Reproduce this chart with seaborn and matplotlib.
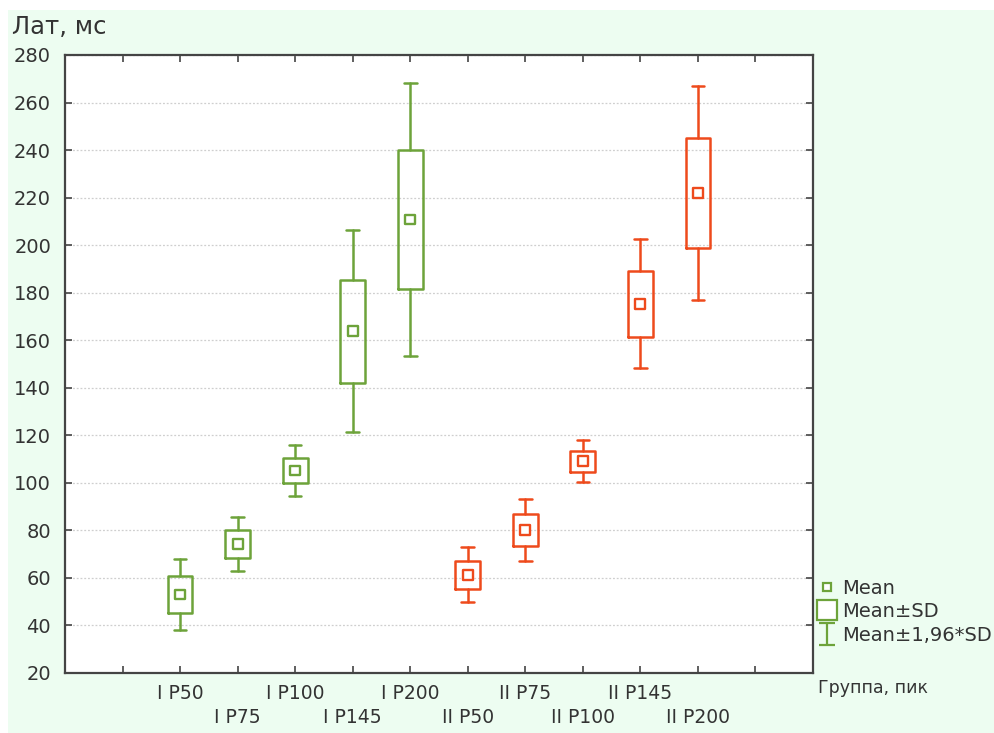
import matplotlib
matplotlib.use('Agg')
import matplotlib.pyplot as plt
from matplotlib.lines import Line2D
from matplotlib.path import Path
from matplotlib.patches import Rectangle
import numpy as np
import pandas as pd
import seaborn as sns

# data: mean and SD per group/peak
labels = ['I P50', 'I P75', 'I P100', 'I P145', 'I P200',
          'II P50', 'II P75', 'II P100', 'II P145', 'II P200']
groups = ['I'] * 5 + ['II'] * 5
means = [53.0, 74.3, 105.2, 163.8, 210.8, 61.4, 80.2, 109.1, 175.4, 221.9]
sds = [7.7, 5.8, 5.4, 21.7, 29.4, 5.9, 6.7, 4.5, 13.9, 23.0]

colors = {'I': '#6da33a', 'II': '#ee4a1c'}
text_color = '#333333'

df = pd.DataFrame({'label': labels, 'group': groups, 'mean': means, 'sd': sds})
df['pos'] = np.arange(2, 2 + len(df))

sns.set_theme(style='white')
plt.rcParams['font.family'] = ['DejaVu Sans']

fig = plt.figure(figsize=(9.95, 7.33), dpi=100)
fig.patch.set_facecolor('white')
fig.add_artist(Rectangle((8 / 995, 0), 1, 1 - 10 / 733, transform=fig.transFigure,
                         facecolor='#edfdf1', edgecolor='none', zorder=-10))
ax = fig.add_axes([65 / 995, 1 - 673 / 733, (813 - 65) / 995, (673 - 55) / 733])
ax.set_facecolor('white')

# boxes: mean +- SD, whiskers: mean +- 1.96*SD
for _, row in df.iterrows():
    c = colors[row['group']]
    stats = [{
        'med': row['mean'],
        'q1': row['mean'] - row['sd'],
        'q3': row['mean'] + row['sd'],
        'whislo': row['mean'] - 1.96 * row['sd'],
        'whishi': row['mean'] + 1.96 * row['sd'],
    }]
    ax.bxp(stats, positions=[row['pos']], widths=0.43, showfliers=False,
           boxprops=dict(color=c, lw=1.8),
           whiskerprops=dict(color=c, lw=1.8),
           capprops=dict(color=c, lw=1.8),
           medianprops=dict(visible=False),
           capwidths=0.22, manage_ticks=False, zorder=3)

sns.scatterplot(data=df, x='pos', y='mean', hue='group', palette=colors,
                marker='s', s=50, linewidth=1.7, legend=False, ax=ax, zorder=4)
for coll in ax.collections:
    coll.set_edgecolors([colors[g] for g in df['group']])
    coll.set_facecolors('white')

ax.set_xlim(0, 13)
ax.set_ylim(20, 280)
ax.set_yticks(range(20, 281, 20))
ax.yaxis.grid(True, linestyle=(0, (1.5, 1.5)), color='#cfcfcf', lw=0.9)
ax.xaxis.grid(False)

# staggered category labels: first row on major ticks, second row on minor ticks
pos = df['pos'].tolist()
ax.set_xticks([1] + pos[0::2] + [12])
ax.set_xticklabels([''] + labels[0::2] + [''], fontsize=13.5, color=text_color)
ax.set_xticks(pos[1::2], minor=True)
ax.set_xticklabels(labels[1::2], minor=True, fontsize=13.5, color=text_color)
ax.tick_params(axis='both', which='both', direction='in', length=5, width=1.2,
               color='#444444', top=True, right=True, bottom=True, left=True)
ax.tick_params(axis='x', which='major', pad=8)
ax.tick_params(axis='x', which='minor', pad=25)
ax.tick_params(axis='y', labelsize=14, labelcolor=text_color, pad=10)
for sp in ax.spines.values():
    sp.set_visible(True)
    sp.set_color('#444444')
    sp.set_linewidth(1.6)
ax.set_xlabel('')
ax.set_ylabel('')

fig.text(12 / 995, 1 - 27 / 733, 'Лат, мс', fontsize=17.5, color=text_color,
         ha='left', va='center')
fig.text(818 / 995, 1 - 688 / 733, 'Группа, пик', fontsize=12.5, color=text_color,
         ha='left', va='center')

# legend
g = colors['I']
ibeam = Path([(-0.7, -1), (0.7, -1), (0, -1), (0, 1), (-0.7, 1), (0.7, 1)],
             [Path.MOVETO, Path.LINETO, Path.MOVETO, Path.LINETO, Path.MOVETO, Path.LINETO])
handles = [
    Line2D([], [], ls='none', marker='s', ms=6, mfc='white', mec=g, mew=1.6),
    Line2D([], [], ls='none', marker='s', ms=14, mfc='white', mec=g, mew=1.6),
    Line2D([], [], ls='none', marker=ibeam, ms=16, mec=g, mew=1.6),
]
fig.legend(handles, ['Mean', 'Mean±SD', 'Mean±1,96*SD'], loc='upper left',
           bbox_to_anchor=(817 / 995, 1 - 579 / 733), frameon=False, fontsize=14,
           handlelength=1.0, handletextpad=0.3, labelspacing=0.22, borderpad=0,
           borderaxespad=0, labelcolor=text_color)

fig.savefig('out.png', dpi=100)
